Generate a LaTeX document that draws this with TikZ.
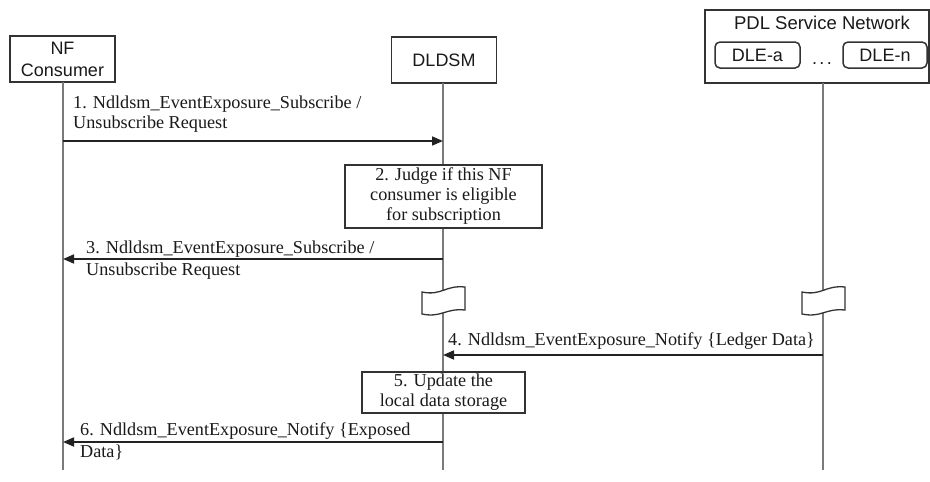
\documentclass[tikz,border=0pt]{standalone}
\usepackage{fontspec}
\setmainfont{Liberation Serif}
\newfontfamily\headfont{Liberation Sans}
\usetikzlibrary{arrows.meta}
\definecolor{txt}{HTML}{1A1A1A}
\definecolor{boxline}{HTML}{333333}
\definecolor{lifeline}{HTML}{7A7A7A}
\definecolor{arrowc}{HTML}{222222}
\tikzset{
  actor/.style={draw=boxline, line width=1.8pt, inner sep=0pt, align=center, text=txt,
    font=\headfont\fontsize{18}{22}\selectfont},
  dlebox/.style={actor, rounded corners=5pt, line width=1.5pt},
  stepbox/.style={draw=boxline, line width=1.7pt, fill=white, inner sep=0pt, align=center, text=txt,
    font=\fontsize{18.2}{20}\selectfont},
  life/.style={draw=lifeline, line width=1.1pt},
  msg/.style={draw=arrowc, line width=1.7pt, -{Triangle[length=11pt,width=9pt]}},
  lbl/.style={anchor=base west, inner sep=0pt, text=txt, font=\fontsize{18.2}{20}\selectfont},
  breakflag/.pic={
    \path[draw=boxline, fill=white, line width=1.3pt]
      (-21,0) .. controls (-1,4) and (2,-7) .. (22,-5) -- (22,18)
      .. controls (2,16) and (-1,26) .. (-21,22) -- cycle;
  }
}
\begin{document}
\begin{tikzpicture}[x=1pt,y=-1pt]
\useasboundingbox[fill=white] (0,0) rectangle (930,482);

% participants
\node[actor, minimum width=105pt, minimum height=46pt] (nfc) at (62.5,59) {NF\\Consumer};
\node[actor, minimum width=105pt, minimum height=46pt] (dldsm) at (444,60) {DLDSM};
\node[actor, minimum width=224pt, minimum height=73pt] (pdl) at (817,46.5) {};
\node[inner sep=0pt, text=txt, font=\headfont\fontsize{18.5}{20}\selectfont] (pdltitle) at (822,23) {PDL Service Network};
\node[dlebox, minimum width=85pt, minimum height=26pt] (dlea) at (757.5,55) {DLE-a};
\node[dlebox, minimum width=84pt, minimum height=26pt] (dlen) at (885,55) {DLE-n};
\node[anchor=base, inner sep=0pt, text=txt, font=\headfont\fontsize{18}{20}\selectfont] (dots) at (822,64) {.\kern2.5pt.\kern2.5pt.};

% lifelines
\coordinate (nfEnd) at (63,470);
\coordinate (dlTop) at (443,83);
\coordinate (dlEnd) at (443,470);
\coordinate (pdlTop) at (823,83);
\coordinate (pdlEnd) at (823,470);
\draw[life] (63,82) -- (nfEnd);
\draw[life] (dlTop) -- (dlEnd);
\draw[life] (pdlTop) -- (pdlEnd);

% message end points
\coordinate (m1a) at (63,141);   \coordinate (m1b) at (443,141);
\coordinate (m3a) at (443,259);  \coordinate (m3b) at (63,259);
\coordinate (m4a) at (823,355);  \coordinate (m4b) at (443,355);
\coordinate (m6a) at (443,442);  \coordinate (m6b) at (63,442);

% 1. subscribe request
\draw[msg] (m1a) -- (m1b);
\node[lbl] (l1a) at (73,108) {1. Ndldsm\_EventExposure\_Subscribe /};
\node[lbl] (l1b) at (73,128) {Unsubscribe Request};

% 2. local check
\node[stepbox, minimum width=197pt, minimum height=63pt] (s2) at (443.5,196.5)
  {2. Judge if this NF\\consumer is eligible\\for subscription};

% 3. response
\draw[msg] (m3a) -- (m3b);
\node[lbl] (l3a) at (86,253) {3. Ndldsm\_EventExposure\_Subscribe /};
\node[lbl] (l3b) at (86,275) {Unsubscribe Request};

% time breaks
\pic at (443,292) {breakflag};
\pic at (823,292) {breakflag};

% 4. notify from ledger
\draw[msg] (m4a) -- (m4b);
\node[lbl] (l4) at (448,345) {4. Ndldsm\_EventExposure\_Notify \{Ledger Data\}};

% 5. storage update
\node[stepbox, minimum width=163pt, minimum height=41pt] (s5) at (443.5,392.5)
  {5. Update the\\local data storage};

% 6. notify consumer
\draw[msg] (m6a) -- (m6b);
\node[lbl] (l6a) at (80,435) {6. Ndldsm\_EventExposure\_Notify \{Exposed};
\node[lbl] (l6b) at (80,457) {Data\}};
\end{tikzpicture}
\end{document}
